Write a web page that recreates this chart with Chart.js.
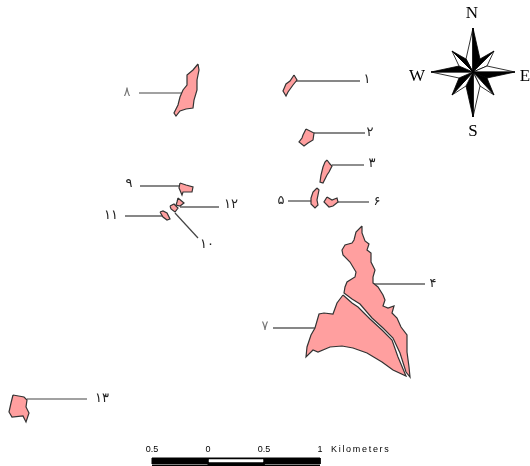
<!DOCTYPE html>
<html>
<head>
<meta charset="utf-8">
<style>
html, body { margin: 0; padding: 0; background: #fff; overflow: hidden; }
#map { display: block; }
</style>
<script src="https://cdn.jsdelivr.net/npm/chart.js@4"></script>
</head>
<body>
<canvas id="map" width="530" height="466"></canvas>
<script>
// parcels, map units
const parcel1 = [[294,75],[297,80],[293,85],[288,92],[286,96],[283,91],[286,84],[290,81]];
const parcel2 = [[306,129],[314,133],[313,140],[308,143],[304,146],[299,142],[302,138],[303,135]];
const parcel3 = [[327,160],[330,164],[332,166],[329,172],[327,175],[323,183],[320,182],[321,175],[323,167],[325,162]];
const parcel4 = [[362,226],[362,233],[365,241],[369,244],[367,250],[371,253],[371,262],[375,270],[373,277],[373,283],[378,287],[383,295],[385,300],[383,306],[388,308],[394,306],[392,313],[397,318],[401,327],[407,335],[407,352],[409,367],[410,377],[406,372],[400,353],[393,338],[383,328],[372,318],[360,304],[352,299],[344,293],[345,287],[347,282],[355,277],[356,272],[350,262],[343,255],[342,250],[345,245],[352,243],[354,240],[356,232]];
const parcel5 = [[317,188],[319,190],[318,195],[317,200],[318,205],[315,208],[311,204],[311,198],[313,192]];
const parcel6 = [[327,197],[332,200],[337,198],[338,202],[333,206],[329,207],[324,202]];
const parcel7 = [[343,295],[352,303],[358,307],[370,319],[382,330],[392,340],[398,357],[406,376],[393,370],[382,362],[367,353],[353,348],[342,346],[330,347],[318,352],[313,350],[306,357],[307,347],[311,335],[315,328],[319,314],[324,313],[333,314],[337,303]];
const parcel8 = [[198,64],[199,70],[197,80],[197,90],[194,100],[193,108],[186,109],[180,111],[176,116],[174,113],[178,105],[180,97],[183,90],[187,85],[187,75],[193,70]];
const parcel9 = [[180,183],[186,185],[193,187],[192,192],[183,192],[182,195],[179,188]];
const parcel10 = [[170,206],[174,204],[178,208],[175,212],[171,209]];
const parcel11 = [[160,212],[163,211],[167,213],[170,219],[167,220],[163,217]];
const parcel12 = [[178,198],[184,203],[180,206],[176,205],[177,202]];
const parcel13 = [[13,395],[24,397],[27,400],[26,407],[29,413],[26,422],[23,416],[12,417],[9,412],[11,403]];
const parcels = [parcel1,parcel2,parcel3,parcel4,parcel5,parcel6,parcel7,parcel8,parcel9,parcel10,parcel11,parcel12,parcel13];

// leader lines and their labels
const leaders = [
  [[296,81],[360,81]], [[314,133],[365,133]], [[332,165],[364,165]], [[373,284],[425,284]],
  [[288,201],[311,201]], [[338,202],[369,202]], [[273,328],[315,328]], [[139,93],[183,93]],
  [[140,186],[180,186]], [[175,213],[198,238]], [[125,216],[163,216]], [[180,207],[219,207]],
  [[27,399],[87,399]]
];
const leaderLabels = ['۱','۲','۳','۴','۵','۶','۷','۸','۹','۱۰','۱۱','۱۲','۱۳'];
const labelSpots = [[367,80],[370,133],[372,164],[433,284],[281,201],[377,202],[265,327],[127,93],[129,184],[207,245],[111,216],[231,205],[102,399]];

// compass rose, arms clockwise from north
const compassCentre = [473,72];
const compassTips = [[473,28],[494,51],[515,72],[494,95],[473,117],[452,95],[431,72],[452,51]];
const compassShoulders = [[480,59],[487,66],[487,78],[480,86],[466,86],[459,78],[459,66],[466,59]];
const compassBlackClockwise = [true,false,true,false,true,true,true,true];
const compassLetters = ['N','E','S','W'];
const compassLetterSpots = [[472,14],[525,77],[473,132],[417,77]];

// scale bar
const scaleEdges = [152,208,264,320];
const scaleLabels = ['0.5','0','0.5','1'];
const scaleUnit = 'Kilometers';

function pts(list) { return list.map(p => ({x: p[0], y: p[1]})); }
function closed(list) { return pts(list.concat([list[0]])); }
function shape(list, bg, line, width) {
  return {data: closed(list), showLine: true, fill: 'shape', backgroundColor: bg, borderColor: line, borderWidth: width, pointRadius: 0, tension: 0};
}
function stroke(list, line, width) {
  return {data: pts(list), showLine: true, fill: false, borderColor: line, borderWidth: width, pointRadius: 0, tension: 0};
}

const layers = [];
leaders.forEach((l, i) => layers.push(stroke(l, (i == 2 || i == 7 || i == 9 || i == 12 || i == 4 || i == 5) ? '#444' : '#111', 1.2)));
parcels.forEach(p => layers.push(shape(p, '#ff9f9f', '#333', 1.2)));

compassTips.forEach((tip, i) => {
  const before = compassShoulders[(i + 7) % 8];
  const after = compassShoulders[i];
  const cw = compassBlackClockwise[i];
  layers.push(shape([compassCentre, before, tip], cw ? '#fff' : '#000', '#000', 0.8));
  layers.push(shape([compassCentre, tip, after], cw ? '#000' : '#fff', '#000', 0.8));
});

// scale bar cells
const barTop = 458, barMid = 463, barEnd = 466;
layers.push(shape([[scaleEdges[0],barTop],[scaleEdges[1],barTop],[scaleEdges[1],barMid+1],[scaleEdges[0],barMid+1]], '#000', '#000', 1));
layers.push(shape([[scaleEdges[1],barTop],[scaleEdges[2],barTop],[scaleEdges[2],barEnd],[scaleEdges[1],barEnd]], '#000', '#000', 1));
layers.push(shape([[scaleEdges[1]+1,barTop+1.5],[scaleEdges[2]-1,barTop+1.5],[scaleEdges[2]-1,barMid-1],[scaleEdges[1]+1,barMid-1]], '#fff', '#fff', 0.5));
layers.push(shape([[scaleEdges[2],barTop],[scaleEdges[3],barTop],[scaleEdges[3],barMid+1],[scaleEdges[2],barMid+1]], '#000', '#000', 1));
layers.push(stroke([[scaleEdges[0],barEnd-0.5],[scaleEdges[1],barEnd-0.5]], '#000', 1));
layers.push(stroke([[scaleEdges[2],barEnd-0.5],[scaleEdges[3],barEnd-0.5]], '#000', 1));

const mapText = {
  id: 'mapText',
  afterDraw(chart) {
    const {ctx, scales: {x, y}} = chart;
    ctx.save();
    ctx.textAlign = 'center';
    ctx.textBaseline = 'middle';
    ctx.font = '13px "DejaVu Sans"';
    leaderLabels.forEach((t, i) => {
      ctx.fillStyle = (i == 6 || i == 7) ? '#777' : '#222';
      ctx.fillText(t, x.getPixelForValue(labelSpots[i][0]), y.getPixelForValue(labelSpots[i][1]));
    });
    ctx.fillStyle = '#000';
    ctx.font = '17px "Liberation Serif"';
    compassLetters.forEach((t, i) => {
      ctx.fillText(t, x.getPixelForValue(compassLetterSpots[i][0]), y.getPixelForValue(compassLetterSpots[i][1]));
    });
    ctx.font = '9px "Liberation Sans"';
    scaleLabels.forEach((t, i) => {
      ctx.fillText(t, x.getPixelForValue(scaleEdges[i]), y.getPixelForValue(450));
    });
    ctx.textAlign = 'left';
    ctx.letterSpacing = '1.7px';
    ctx.fillText(scaleUnit, x.getPixelForValue(331), y.getPixelForValue(450));
    ctx.restore();
  }
};

new Chart(document.getElementById('map'), {
  type: 'scatter',
  data: {datasets: layers.reverse()},
  options: {
    responsive: false,
    animation: false,
    layout: {padding: 0},
    plugins: {legend: {display: false}, tooltip: {enabled: false}},
    scales: {
      x: {type: 'linear', min: 0, max: 530, display: false},
      y: {type: 'linear', min: 0, max: 466, reverse: true, display: false}
    }
  },
  plugins: [mapText]
});
</script>
</body>
</html>
